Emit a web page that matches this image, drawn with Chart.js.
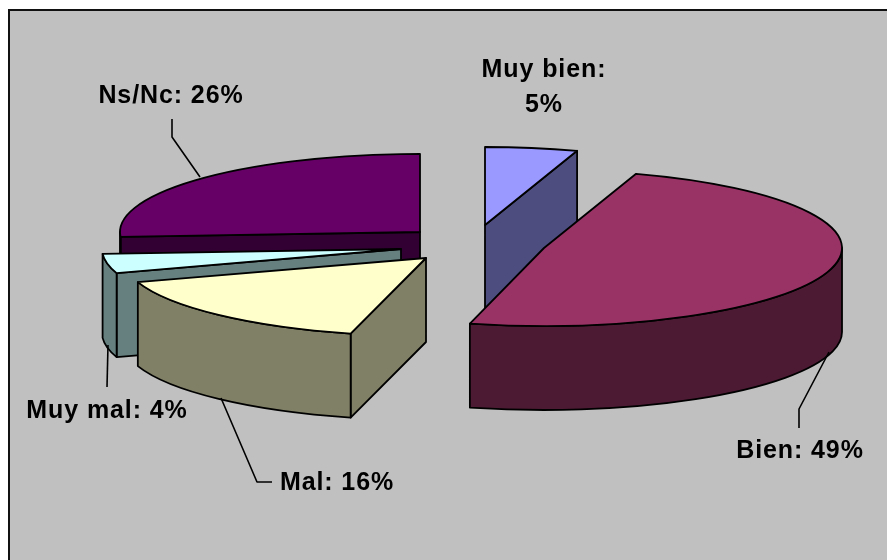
<!DOCTYPE html>
<html><head><meta charset="utf-8">
<script src="https://cdn.jsdelivr.net/npm/chart.js@4"></script>
<style>html,body{margin:0;padding:0;background:#fff}#w{position:absolute;left:0;top:0;width:887px;height:560px}</style>
</head><body><div id="w"><canvas id="c" width="887" height="560"></canvas></div>
<script>
const categories = ['Muy bien','Bien','Mal','Muy mal','Ns/Nc'];
const values = [5,49,16,4,26];
const topColors = ['#9999FF','#993366','#FFFFCC','#CCFFFF','#660066'];
const sideColors = ['#4D4D80','#4D1A33','#808066','#668080','#330033'];
// exploded slice apex positions, painter order, label placement
const apexes = [[485,225],[544,248],[426,258],[401,249],[420,232]];
const radiiX = [298,298,303,299,300];
const paintOrder = [4,3,2,0,1];
const RY = 78, DEPTH = 84;
const labelLines = [['Muy bien:','5%'],null,null,null,null];
const labelPos = [[544,77],[800,458],[337,490],[107,418],[171,103]];
const leaders = [null,[[799,428],[799,409],[829,352]],[[272,482],[257,482],[221,398]],[[107,387],[108,345]],[[172,119],[172,137],[200,177]]];

const pie3d = {
  id:'pie3d',
  beforeDatasetsDraw(chart){
    const ctx = chart.ctx, arcs = chart.getDatasetMeta(0).data;
    ctx.save();
    ctx.fillStyle='#C0C0C0'; ctx.fillRect(9,10,878,550);
    ctx.fillStyle='#111'; ctx.fillRect(8,9,879,2); ctx.fillRect(8,9,2,551);
    ctx.lineWidth=1.8; ctx.lineJoin='round';
    for(const i of paintOrder){
      const el=arcs[i], [cx,cy]=apexes[i], a0=el.startAngle, a1=el.endAngle, RX=radiiX[i];
      const pt=a=>[cx+RX*Math.cos(a),cy+RY*Math.sin(a)];
      const mid=pt((a0+a1)/2), m=[mid[0]-cx,mid[1]-cy];
      ctx.strokeStyle='#000';
      for(const a of [a0,a1]){
        const p=pt(a), e=[p[0]-cx,p[1]-cy];
        const c1=e[0], c2=e[0]*m[1]-e[1]*m[0];
        if(c1*c2>=0) continue;
        ctx.beginPath();ctx.moveTo(cx,cy);ctx.lineTo(p[0],p[1]);ctx.lineTo(p[0],p[1]+DEPTH);ctx.lineTo(cx,cy+DEPTH);ctx.closePath();
        ctx.fillStyle=sideColors[i];ctx.fill();ctx.stroke();
      }
      const w0=Math.max(a0,0), w1=Math.min(a1,Math.PI);
      if(w1>w0){
        ctx.beginPath();ctx.ellipse(cx,cy,RX,RY,0,w0,w1);
        ctx.ellipse(cx,cy+DEPTH,RX,RY,0,w1,w0,true);ctx.closePath();
        ctx.fillStyle=sideColors[i];ctx.fill();ctx.stroke();
      }
      const r=el.outerRadius;
      ctx.save();ctx.translate(cx,cy);ctx.scale(RX/r,RY/r);ctx.translate(-el.x,-el.y);
      el.draw(ctx);ctx.restore();
      ctx.beginPath();ctx.moveTo(cx,cy);ctx.ellipse(cx,cy,RX,RY,0,a0,a1);ctx.closePath();ctx.stroke();
    }
    // leader lines
    ctx.lineWidth=1.6;ctx.strokeStyle='#000';
    for(const l of leaders){ if(!l) continue;
      ctx.beginPath();l.forEach((p,k)=>k?ctx.lineTo(p[0],p[1]):ctx.moveTo(p[0],p[1]));ctx.stroke();
    }
    // labels
    ctx.fillStyle='#000';ctx.font='bold 25px "Liberation Sans"';ctx.textAlign='center';ctx.textBaseline='alphabetic';
    ctx.letterSpacing='0.9px';
    categories.forEach((c,i)=>{
      const lines=labelLines[i]||[c+': '+values[i]+'%'];
      lines.forEach((t,k)=>ctx.fillText(t,labelPos[i][0],labelPos[i][1]+k*35));
    });
    ctx.restore();
    return false;
  }
};
new Chart(document.getElementById('c'),{
  type:'pie',
  data:{labels:categories,datasets:[{data:values,backgroundColor:topColors,borderWidth:0,hoverOffset:0}]},
  options:{responsive:false,animation:false,rotation:0,
    plugins:{legend:{display:false},tooltip:{enabled:false},title:{display:false}},events:[]},
  plugins:[pie3d]
});
</script></body></html>
